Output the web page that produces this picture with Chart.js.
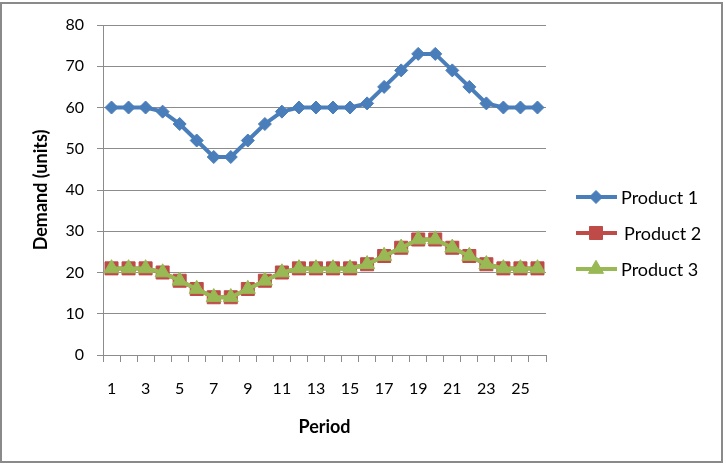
<!DOCTYPE html>
<html>
<head>
<meta charset="utf-8">
<script src="https://cdn.jsdelivr.net/npm/chart.js@4/dist/chart.umd.min.js"></script>
<style>
  html, body { margin: 0; padding: 0; background: #fff; }
  #chart { display: block; }
</style>
</head>
<body>
<canvas id="chart" width="726" height="468"></canvas>
<script>
// периоды и спрос по трём продуктам
const periods = [1, 2, 3, 4, 5, 6, 7, 8, 9, 10, 11, 12, 13, 14, 15, 16, 17, 18, 19, 20, 21, 22, 23, 24, 25, 26];
const product1 = [60, 60, 60, 59, 56, 52, 48, 48, 52, 56, 59, 60, 60, 60, 60, 61, 65, 69, 73, 73, 69, 65, 61, 60, 60, 60];
const product2 = [21, 21, 21, 20, 18, 16, 14, 14, 16, 18, 20, 21, 21, 21, 21, 22, 24, 26, 28, 28, 26, 24, 22, 21, 21, 21];
const product3 = [21, 21, 21, 20, 18, 16, 14, 14, 16, 18, 20, 21, 21, 21, 21, 22, 24, 26, 28, 28, 26, 24, 22, 21, 21, 21];
const seriesNames = ['Product 1', 'Product 2', 'Product 3'];
const yTicks = [0, 10, 20, 30, 40, 50, 60, 70, 80];

const colors = ['#4A7EBB', '#BE4B48', '#98B954'];
const styles = ['rectRot', 'rect', 'triangle'];
const radii = [6.5, 9.2, 8.7];
const gridColor = '#8C8C8C';
const fontFamily = 'Lato, "Open Sans", sans-serif';

// легенда справа: линия + маркер, как в Excel
const legendPlugin = {
  id: 'sideLegend',
  afterDraw(chart) {
    const ctx = chart.ctx;
    const rows = [197, 233, 269];
    chart.data.datasets.forEach((ds, i) => {
      const y = rows[i];
      ctx.save();
      ctx.strokeStyle = ds.borderColor;
      ctx.lineWidth = 4;
      ctx.beginPath();
      ctx.moveTo(576, y);
      ctx.lineTo(617, y);
      ctx.stroke();
      ctx.fillStyle = ds.pointBackgroundColor;
      ctx.strokeStyle = ds.pointBorderColor;
      ctx.lineWidth = 1;
      Chart.helpers.drawPoint(ctx, { pointStyle: ds.pointStyle, radius: ds.pointRadius, rotation: 0, borderWidth: 1 }, 596, y);
      ctx.fillStyle = '#000';
      ctx.font = '18px ' + fontFamily;
      ctx.textAlign = 'left';
      ctx.textBaseline = 'middle';
      ctx.fillText(ds.label, i === 1 ? 624 : 621, y + 1);
      ctx.restore();
    });
  }
};

// рамка вокруг всей диаграммы
const framePlugin = {
  id: 'frame',
  beforeDraw(chart) {
    const ctx = chart.ctx;
    ctx.save();
    ctx.fillStyle = '#fff';
    ctx.fillRect(0, 0, chart.width, chart.height);
    ctx.strokeStyle = '#8A8A8A';
    ctx.lineWidth = 2;
    ctx.strokeRect(1, 3, 721, 459);
    ctx.restore();
  }
};

const datasets = [product1, product2, product3].map((values, i) => ({
  label: seriesNames[i],
  data: values,
  borderColor: colors[i],
  backgroundColor: colors[i],
  pointBackgroundColor: colors[i],
  pointBorderColor: colors[i],
  pointStyle: styles[i],
  pointRadius: radii[i],
  pointHoverRadius: radii[i],
  pointBorderWidth: 1,
  borderWidth: 4,
  tension: 0,
  order: 3 - i
}));

new Chart(document.getElementById('chart'), {
  type: 'line',
  data: { labels: periods, datasets: datasets },
  options: {
    responsive: false,
    animation: false,
    devicePixelRatio: 1,
    layout: { padding: { top: 25, right: 180, bottom: 0, left: 0 } },
    plugins: {
      legend: { display: false },
      tooltip: { enabled: false }
    },
    scales: {
      x: {
        offset: true,
        grid: {
          offset: true,
          drawOnChartArea: false,
          drawTicks: true,
          tickLength: 7,
          color: gridColor
        },
        border: { color: gridColor, width: 1 },
        ticks: {
          autoSkip: false,
          maxRotation: 0,
          padding: 17,
          color: '#000',
          font: { family: fontFamily, size: 16 },
          callback: function (value, index) {
            return index % 2 === 0 ? this.getLabelForValue(value) : '';
          }
        },
        title: {
          display: true,
          text: 'Period',
          color: '#000',
          font: { family: fontFamily, size: 18, weight: 'bold' },
          padding: { top: 0, bottom: 30 }
        },
        afterFit(scale) { scale.height = 113; }
      },
      y: {
        min: yTicks[0],
        max: yTicks[yTicks.length - 1],
        afterBuildTicks(scale) { scale.ticks = yTicks.map(v => ({ value: v })); },
        grid: {
          color: gridColor,
          tickLength: 6,
          lineWidth: 1
        },
        border: { color: gridColor, width: 1 },
        ticks: {
          padding: 13,
          color: '#000',
          font: { family: fontFamily, size: 16 }
        },
        title: {
          display: true,
          text: 'Demand (units)',
          color: '#000',
          font: { family: fontFamily, size: 18, weight: 'bold' },
          padding: { top: 30, bottom: 0 }
        },
        afterFit(scale) { scale.width = 103; }
      }
    }
  },
  plugins: [framePlugin, legendPlugin]
});
</script>
</body>
</html>
